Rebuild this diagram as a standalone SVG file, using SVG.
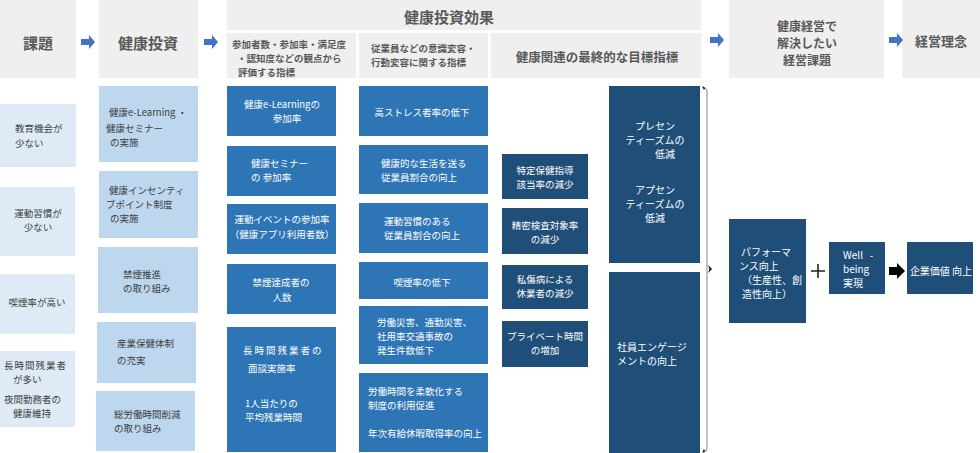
<svg xmlns="http://www.w3.org/2000/svg" width="980" height="453" viewBox="0 0 980 453">
<style>
text{font-family:"Noto Sans CJK JP","Noto Sans",sans-serif;dominant-baseline:central}
.hd{fill:#efefef}
.ht{fill:#595959;font-weight:bold}
.lt{fill:#deebf7}
.md{fill:#bdd7ee}
.bl{fill:#2e75b6}
.nv{fill:#1f4e79}
.dk{fill:#3d3d3d;font-size:9.5px}
.wt{fill:#ffffff;font-size:9.5px}
.wt2{fill:#ffffff;font-size:10px}
.c{text-anchor:middle}
.arr{fill:#4472c4}
</style>
<defs>
<path id="ba" d="M0,-3 L8,-3 L8,-7 L14,0 L8,7 L8,3 L0,3 Z"/>
</defs>
<rect width="980" height="453" fill="#ffffff"/>

<g id="header">
<rect class="hd" x="0" y="0" width="76" height="78"/>
<text class="ht c" x="38" y="42" font-size="15">課題</text>
<rect class="hd" x="99" y="0" width="99" height="78"/>
<text class="ht c" x="148" y="42" font-size="15">健康投資</text>
<rect class="hd" x="227" y="0" width="474" height="30"/>
<text class="ht c" x="449" y="16" font-size="15">健康投資効果</text>
<rect class="hd" x="227" y="33" width="129" height="45"/>
<text class="ht" font-size="9.5"><tspan x="232" y="44">参加者数・参加率・満足度</tspan><tspan x="237" y="58">・認知度などの観点から</tspan><tspan x="238" y="72">評価する指標</tspan></text>
<rect class="hd" x="359" y="33" width="129" height="45"/>
<text class="ht" font-size="9.5"><tspan x="371" y="48">従業員などの意識変容・</tspan><tspan x="371" y="62">行動変容に関する指標</tspan></text>
<rect class="hd" x="491" y="33" width="210" height="45"/>
<text class="ht c" x="597" y="56" font-size="12.5">健康関連の最終的な目標指標</text>
<rect class="hd" x="729" y="0" width="155" height="78"/>
<text class="ht c" font-size="12"><tspan x="807" y="25">健康経営で</tspan><tspan x="807" y="42">解決したい</tspan><tspan x="807" y="59">経営課題</tspan></text>
<rect class="hd" x="902" y="0" width="78" height="78"/>
<text class="ht c" x="941" y="40" font-size="13">経営理念</text>
</g>

<g id="header-arrows">
<use href="#ba" class="arr" x="81" y="42"/>
<use href="#ba" class="arr" x="204" y="42"/>
<use href="#ba" class="arr" x="710" y="40"/>
<use href="#ba" class="arr" x="889" y="40"/>
</g>

<g id="issues">
<rect class="lt" x="0" y="104" width="76" height="63"/>
<text class="dk"><tspan x="15" y="128">教育機会が</tspan><tspan x="15" y="143">少ない</tspan></text>
<rect class="lt" x="0" y="187" width="75" height="69"/>
<text class="dk c"><tspan x="38" y="213">運動習慣が</tspan><tspan x="38" y="227">少ない</tspan></text>
<rect class="lt" x="0" y="274" width="75" height="60"/>
<text class="dk c" x="37" y="302">喫煙率が高い</text>
<rect class="lt" x="0" y="351" width="75" height="76"/>
<text class="dk"><tspan x="4" y="365" letter-spacing="1">長時間残業者</tspan><tspan x="13" y="379">が多い</tspan><tspan x="4" y="399">夜間勤務者の</tspan><tspan x="13" y="413">健康維持</tspan></text>
</g>

<g id="investments">
<rect class="md" x="99" y="86" width="99" height="76"/>
<text class="dk"><tspan x="109" y="112">健康e-Learning ・</tspan><tspan x="106" y="128">健康セミナー</tspan><tspan x="110" y="142">の実施</tspan></text>
<rect class="md" x="99" y="171" width="99" height="67"/>
<text class="dk"><tspan x="109" y="190">健康インセンティ</tspan><tspan x="106" y="204">ブポイント制度</tspan><tspan x="110" y="218">の実施</tspan></text>
<rect class="md" x="98" y="247" width="100" height="66"/>
<text class="dk"><tspan x="123" y="274">禁煙推進</tspan><tspan x="123" y="288">の取り組み</tspan></text>
<rect class="md" x="97" y="322" width="99" height="61"/>
<text class="dk"><tspan x="117" y="343">産業保健体制</tspan><tspan x="117" y="360">の充実</tspan></text>
<rect class="md" x="96" y="391" width="99" height="60"/>
<text class="dk"><tspan x="114" y="414">総労働時間削減</tspan><tspan x="114" y="428">の取り組み</tspan></text>
</g>

<g id="participation">
<rect class="bl" x="227" y="86" width="109" height="50"/>
<text class="wt c"><tspan x="282" y="104">健康e-Learningの</tspan><tspan x="287" y="118">参加率</tspan></text>
<rect class="bl" x="227" y="146" width="109" height="50"/>
<text class="wt"><tspan x="251" y="163">健康セミナー</tspan><tspan x="251" y="177">の 参加率</tspan></text>
<rect class="bl" x="227" y="204" width="109" height="50"/>
<text class="wt c"><tspan x="282" y="219">運動イベントの参加率</tspan><tspan x="282" y="234">（健康アプリ利用者数）</tspan></text>
<rect class="bl" x="227" y="264" width="109" height="50"/>
<text class="wt c"><tspan x="281" y="282">禁煙達成者の</tspan><tspan x="282" y="297">人数</tspan></text>
<rect class="bl" x="227" y="327" width="109" height="125"/>
<text class="wt"><tspan x="243" y="350" letter-spacing="2">長時間残業者の</tspan><tspan x="248" y="368">面談実施率</tspan><tspan x="245" y="403">1人当たりの</tspan><tspan x="245" y="417">平均残業時間</tspan></text>
</g>

<g id="behavior">
<rect class="bl" x="359" y="86" width="129" height="50"/>
<text class="wt c" x="422" y="112">高ストレス者率の低下</text>
<rect class="bl" x="359" y="145" width="129" height="49"/>
<text class="wt"><tspan x="381" y="163">健康的な生活を送る</tspan><tspan x="381" y="177">従業員割合の向上</tspan></text>
<rect class="bl" x="359" y="203" width="129" height="50"/>
<text class="wt"><tspan x="384" y="221">運動習慣のある</tspan><tspan x="384" y="235">従業員割合の向上</tspan></text>
<rect class="bl" x="359" y="262" width="129" height="37"/>
<text class="wt c" x="422" y="282">喫煙率の低下</text>
<rect class="bl" x="359" y="306" width="129" height="58"/>
<text class="wt"><tspan x="377" y="322">労働災害、通勤災害、</tspan><tspan x="377" y="336">社用車交通事故の</tspan><tspan x="377" y="350">発生件数低下</tspan></text>
<rect class="bl" x="359" y="373" width="129" height="79"/>
<text class="wt"><tspan x="368" y="391">労働時間を柔軟化する</tspan><tspan x="368" y="405">制度の利用促進</tspan><tspan x="368" y="433">年次有給休暇取得率の向上</tspan></text>
</g>

<g id="targets">
<rect class="nv" x="502" y="154" width="86" height="45"/>
<text class="wt c"><tspan x="545" y="170">特定保健指導</tspan><tspan x="545" y="184">該当率の減少</tspan></text>
<rect class="nv" x="502" y="208" width="86" height="46"/>
<text class="wt c"><tspan x="545" y="225">精密検査対象率</tspan><tspan x="545" y="239">の減少</tspan></text>
<rect class="nv" x="502" y="265" width="86" height="44"/>
<text class="wt c"><tspan x="545" y="279">私傷病による</tspan><tspan x="545" y="293">休業者の減少</tspan></text>
<rect class="nv" x="502" y="321" width="86" height="46"/>
<text class="wt c"><tspan x="545" y="336">プライベート時間</tspan><tspan x="545" y="350">の増加</tspan></text>
</g>

<g id="final">
<rect class="nv" x="609" y="86" width="91" height="177"/>
<text class="wt2 c"><tspan x="655" y="125">プレセン</tspan><tspan x="655" y="139">ティーズムの</tspan><tspan x="665" y="153">低減</tspan><tspan x="655" y="189">アプセン</tspan><tspan x="655" y="203">ティーズムの</tspan><tspan x="655" y="217">低減</tspan></text>
<rect class="nv" x="609" y="272" width="91" height="181"/>
<text class="wt2"><tspan x="617" y="346">社員エンゲージ</tspan><tspan x="617" y="360">メントの向上</tspan></text>
</g>

<g id="performance">
<rect class="nv" x="729" y="219" width="77" height="104"/>
<text class="wt2"><tspan x="741" y="251">パフォーマ</tspan><tspan x="739" y="265">ンス向上</tspan><tspan x="742" y="279">（生産性、創</tspan><tspan x="742" y="293">造性向上）</tspan></text>
</g>

<g id="wellbeing">
<rect class="nv" x="829" y="242" width="56" height="52"/>
<text class="wt2"><tspan x="843" y="254">Well&#160;&#160;&#160;-</tspan><tspan x="843" y="268">being</tspan><tspan x="843" y="282">実現</tspan></text>
</g>

<g id="value">
<rect class="nv" x="907" y="242" width="66" height="52"/>
<text class="wt2 c" x="941" y="270" font-size="9.5">企業価値 向上</text>
</g>

<g id="connectors">
<path d="M703,87 Q707,88 707,93 L707,447 Q707,452 703,452" fill="none" stroke="#9a9a9a" stroke-width="1.2"/>
<path d="M702,86 L705,88 L704,90 Z" fill="#000"/>
<path d="M702,453 L705,451 L704,449 Z" fill="#000"/>
<path d="M708,265 L712,269 L708,273 L709.5,269 Z" fill="#000"/>
<path d="M811,271 L825,271 M818,264 L818,278" stroke="#222" stroke-width="1.6"/>
<path d="M889,267 L897,267 L897,263 L905,271 L897,279 L897,275 L889,275 Z" fill="#000"/>
</g>
</svg>
